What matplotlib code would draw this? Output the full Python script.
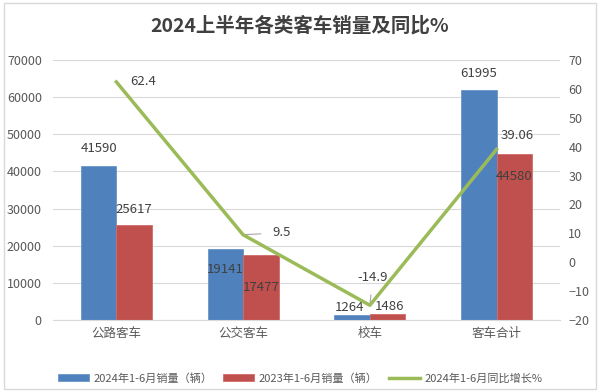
import numpy as np
import matplotlib
matplotlib.use("Agg")
import matplotlib.pyplot as plt
from matplotlib.patches import Rectangle

plt.rcParams['font.family'] = ['Noto Sans CJK SC', 'DejaVu Sans']

categories = ['公路客车', '公交客车', '校车', '客车合计']
sales_2024 = [41590, 19141, 1264, 61995]
sales_2023 = [25617, 17477, 1486, 44580]
growth = [62.4, 9.5, -14.9, 39.06]
growth_labels = ['62.4', '9.5', '-14.9', '39.06']

# label offsets in pixels (dx, dy) relative to bar top / point
off_2024 = [(0, 17), (0, -21), (-3, 8), (0, 16)]
off_2023 = [(0, 15), (0, -32), (2, 8), (0, -22)]
off_growth = [(27, 0), (38, 2), (3, 28), (21, 14)]
leader = [False, True, True, True]

blue = '#4F81BD'
red = '#C0504D'
green = '#9BBB59'
txt = '#404040'
grid_c = '#D9D9D9'

fig = plt.figure(figsize=(6, 3.92), dpi=100)
fig.patches.append(Rectangle((0.006, 0.008), 0.988, 0.984, transform=fig.transFigure,
                             fill=False, edgecolor='#D9D9D9', linewidth=1.0))
ax = fig.add_axes([0.0883, 0.1837, 0.845, 0.6633])
ax2 = ax.twinx()

x = np.arange(len(categories))
w = 0.28
b1 = ax.bar(x - w / 2, sales_2024, w, color=blue, edgecolor='#6A96CB', linewidth=0.6,
            label='2024年1-6月销量（辆）', zorder=2)
b2 = ax.bar(x + w / 2, sales_2023, w, color=red, edgecolor='#D06C69', linewidth=0.6,
            label='2023年1-6月销量（辆）', zorder=2)

ax.set_xlim(-0.5, len(categories) - 0.5)
ax.set_ylim(0, 70000)
ax.set_yticks(np.arange(0, 70001, 10000))
ax.yaxis.grid(True, color=grid_c, linewidth=0.8, zorder=0)
ax.set_axisbelow(True)
ax.set_xticks(x)
ax.set_xticklabels(categories, fontsize=9, color='#595959')
ax.tick_params(axis='both', length=0, labelsize=9, labelcolor='#595959')
ax.tick_params(axis='y', pad=8)
ax.tick_params(axis='x', pad=5)
for s in ['top', 'right', 'left']:
    ax.spines[s].set_visible(False)
ax.spines['bottom'].set_color(grid_c)

ln, = ax2.plot(x, growth, color=green, linewidth=2.5, label='2024年1-6月同比增长%', zorder=3)
ax2.set_ylim(-20, 70)
ax2.set_yticks(np.arange(-20, 71, 10))
ax2.tick_params(axis='y', length=0, labelsize=9, labelcolor='#595959', pad=6)
for s in ax2.spines.values():
    s.set_visible(False)

for i in range(len(categories)):
    ax.annotate(str(sales_2024[i]), (x[i] - w / 2, sales_2024[i]), xytext=off_2024[i],
                textcoords='offset pixels', ha='center', va='center', fontsize=9.5, color=txt)
    ax.annotate(str(sales_2023[i]), (x[i] + w / 2, sales_2023[i]), xytext=off_2023[i],
                textcoords='offset pixels', ha='center', va='center', fontsize=9.5, color=txt)
    if leader[i]:
        ax2.annotate(growth_labels[i], (x[i], growth[i]), xytext=off_growth[i],
                     textcoords='offset pixels', ha='center', va='center', fontsize=9.5, color=txt,
                     arrowprops=dict(arrowstyle='-', color='#A6A6A6', lw=0.8, shrinkA=6, shrinkB=2))
    else:
        ax2.annotate(growth_labels[i], (x[i], growth[i]), xytext=off_growth[i],
                     textcoords='offset pixels', ha='center', va='center', fontsize=9.5, color=txt)

fig.text(0.5, 0.935, '2024上半年各类客车销量及同比%', ha='center', va='center',
         fontsize=14, fontweight='bold', color=txt)

handles = [b1, b2, ln]
fig.legend(handles, [h.get_label() for h in handles], loc='center', bbox_to_anchor=(0.5, 0.035),
           ncol=3, frameon=False, fontsize=8, labelcolor='#595959',
           handlelength=2.8, handleheight=0.6, columnspacing=1.0, handletextpad=0.4)

fig.savefig('out.png', dpi=100)
